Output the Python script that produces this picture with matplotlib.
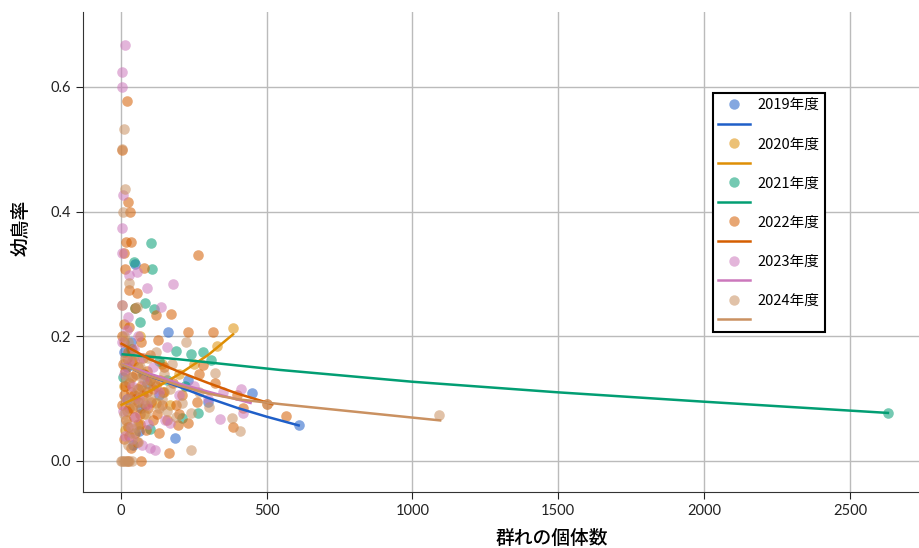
import numpy as np
import matplotlib.pyplot as plt
from matplotlib.lines import Line2D

plt.rcParams['font.family'] = ['Lato', 'Noto Sans CJK JP', 'DejaVu Sans']

years = ['2019年度', '2020年度', '2021年度', '2022年度', '2023年度', '2024年度']
colors = ['#1F5FC8', '#DE8F05', '#029E73', '#D55E00', '#CC78BC', '#CA9161']

# 群れの個体数, 幼鳥率
pts_2019 = [(161, .207), (450, .109), (610, .057), (185, .037), (62, .048), (41, .026),
            (48, .316), (22, .15), (90, .125), (130, .105), (12, .175), (70, .085),
            (230, .13), (300, .095), (35, .19)]
pts_2020 = [(384, .213), (120, .093), (30, .085), (60, .06), (100, .13), (150, .11),
            (200, .14), (250, .155), (10, .12), (45, .16), (80, .075), (170, .09),
            (330, .185), (15, .05), (65, .2), (140, .155)]
pts_2021 = [(2630, .077), (103, .35), (45, .319), (106, .308), (82, .253), (113, .244),
            (65, .223), (189, .176), (240, .171), (281, .175), (309, .162), (264, .077),
            (99, .051), (7, .135), (209, .069), (50, .245), (20, .10), (130, .16),
            (160, .13), (35, .18), (75, .14), (220, .12)]
pts_2022 = [(20, .578), (5, .499), (25, .415), (31, .40), (34, .351), (18, .351),
            (264, .33), (12, .333), (15, .308), (79, .31), (28, .274), (55, .269),
            (171, .236), (120, .234), (230, .207), (315, .207), (127, .194), (281, .154),
            (322, .125), (398, .105), (500, .092), (565, .072), (384, .055), (230, .061),
            (164, .013), (69, 0), (195, .058), (24, 0),
            (10, .19), (25, .175), (40, .16), (60, .15), (80, .14), (100, .13),
            (15, .12), (35, .11), (50, .10), (70, .12), (90, .145), (110, .115),
            (140, .09), (20, .08), (45, .07), (65, .06), (85, .05), (30, .04),
            (55, .03), (5, .2), (12, .22), (40, .18), (75, .165), (150, .15),
            (180, .125), (210, .105), (260, .095), (8, .155), (18, .065), (38, .135),
            (58, .095), (95, .085), (125, .075), (160, .065), (5, .09), (28, .215),
            (48, .245), (68, .19), (100, .17), (270, .14), (420, .085),
            (15, .145), (30, .125), (45, .105), (60, .115), (75, .105), (90, .11),
            (105, .095), (120, .12), (135, .13), (22, .165), (52, .14), (82, .09),
            (10, .105), (40, .085), (65, .075), (110, .065), (145, .11), (190, .09),
            (25, .055), (50, .045), (35, .02), (10, .035), (130, .045), (200, .075)]
pts_2023 = [(15, .667), (5, .624), (3, .60), (8, .427), (5, .374), (5, .333),
            (30, .298), (55, .303), (89, .277), (178, .284), (5, .25), (137, .247),
            (25, .231), (158, .183), (411, .115), (418, .077), (340, .067), (151, .066),
            (168, .061), (117, .018), (100, .021), (72, .026), (60, .2), (30, .16),
            (10, .14), (20, .10), (40, .12), (80, .13), (110, .15), (50, .07),
            (15, .04), (90, .09), (130, .11), (200, .105), (250, .12), (35, .055),
            (5, .19), (70, .165), (350, .11), (300, .1), (20, .21), (45, .18),
            (8, .08), (62, .1), (95, .06), (40, .035)]
pts_2024 = [(1090, .073), (10, .532), (15, .436), (8, .40), (30, .285), (55, .247),
            (223, .191), (322, .141), (500, .091), (381, .069), (408, .048), (302, .087),
            (240, .077), (209, .093), (240, .018), (0, 0), (5, 0), (10, 0), (15, 0),
            (20, 0), (30, 0), (40, 0), (5, .5), (12, .2), (25, .19), (45, .17),
            (65, .15), (85, .12), (105, .10), (130, .085), (160, .08), (190, .07),
            (35, .135), (55, .115), (75, .095), (20, .06), (40, .045), (60, .03),
            (10, .075), (150, .14), (270, .11), (25, .025), (95, .165), (120, .175),
            (175, .155), (6, .25), (18, .13), (30, .1), (48, .09), (70, .135),
            (88, .075), (115, .13), (140, .1), (170, .115), (15, .165), (55, .055)]

# fitted curves
fit_2019 = [(7, .154), (100, .136), (200, .119), (300, .101), (400, .085), (500, .071), (610, .057)]
fit_2020 = [(3, .09), (100, .112), (200, .139), (300, .170), (385, .203)]
fit_2021 = [(7, .171), (200, .163), (545, .146), (1000, .127), (1500, .110), (2000, .095), (2630, .077)]
fit_2022 = [(3, .188), (100, .163), (200, .143), (300, .125), (400, .108), (520, .091)]
fit_2023 = [(5, .155), (100, .140), (200, .124), (300, .111), (445, .093)]
fit_2024 = [(2, .155), (100, .136), (200, .121), (300, .108), (400, .099), (550, .091), (1095, .065)]

points = [pts_2019, pts_2020, pts_2021, pts_2022, pts_2023, pts_2024]
fits = [fit_2019, fit_2020, fit_2021, fit_2022, fit_2023, fit_2024]

fig = plt.figure(figsize=(9.2, 5.48), dpi=100)
ax = fig.add_axes([0.090, 0.102, 0.910, 0.876])

for pts, c in zip(points, colors):
    p = np.array(pts)
    ax.scatter(p[:, 0], p[:, 1], s=58, color=c, alpha=0.55, linewidths=0, zorder=2)

for f, c in zip(fits, colors):
    f = np.array(f)
    ax.plot(f[:, 0], f[:, 1], color=c, lw=1.8, zorder=3)

ax.set_xlim(-130, 2740)
ax.set_ylim(-0.05, 0.72)
ax.set_xticks([0, 500, 1000, 1500, 2000, 2500])
ax.set_yticks([0.0, 0.2, 0.4, 0.6])
ax.grid(True, color='#bbbbbb', lw=1)
ax.set_axisbelow(True)
for s in ['top', 'right']:
    ax.spines[s].set_visible(False)
ax.spines['left'].set_color('#333333')
ax.spines['bottom'].set_color('#333333')
ax.tick_params(labelsize=10.5, colors='#222222', length=5)

ax.set_xlabel('群れの個体数', fontsize=13.5, family=['Noto Sans CJK JP'], weight='medium')
ax.set_ylabel('幼鳥率', fontsize=13.5, family=['Noto Sans CJK JP'], weight='medium')
ax.xaxis.set_label_coords(0.56, -0.077)
ax.yaxis.set_label_coords(-0.062, 0.55)

handles = []
labels = []
for y, c in zip(years, colors):
    handles.append(Line2D([], [], marker='o', ls='none', color=c, alpha=0.55, markersize=7.5, mec='none'))
    labels.append(y)
    handles.append(Line2D([], [], color=c, lw=1.8))
    labels.append('')
leg = ax.legend(handles, labels, loc='upper left', bbox_to_anchor=(0.753, 0.831),
                borderaxespad=0, fancybox=False, framealpha=1, edgecolor='black',
                prop={'family': 'Noto Sans CJK JP', 'size': 10.5}, labelspacing=0.38,
                handlelength=2.2, handletextpad=0.5, borderpad=0.35)
leg.get_frame().set_linewidth(1.5)

fig.savefig('out.png', dpi=100)
